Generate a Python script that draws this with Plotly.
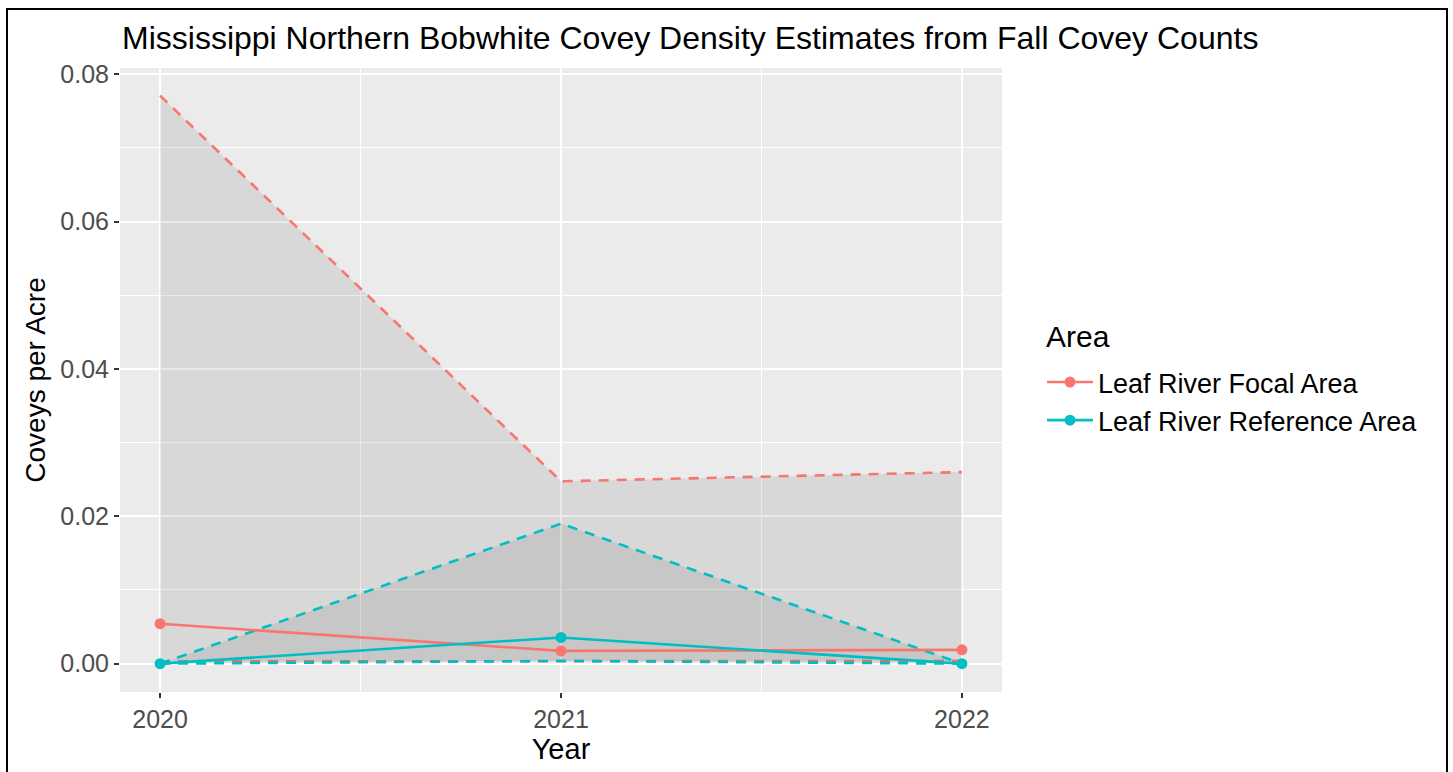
import plotly.graph_objects as go

years = [2020, 2021, 2022]
areas = ["Leaf River Focal Area", "Leaf River Reference Area"]
colors = {"Leaf River Focal Area": "#F8766D", "Leaf River Reference Area": "#00BFC4"}

focal_est = [0.00542, 0.00173, 0.00187]
focal_lower = [0.0003, 0.00037, 0.00037]
focal_upper = [0.0771, 0.02475, 0.0260]

ref_est = [0.0, 0.00355, 0.0]
ref_lower = [0.0, 0.00037, 0.0]
ref_upper = [0.0, 0.0190, 0.0]

data = {
    "Leaf River Focal Area": (focal_est, focal_lower, focal_upper),
    "Leaf River Reference Area": (ref_est, ref_lower, ref_upper),
}

y_ticks = [0.0, 0.02, 0.04, 0.06, 0.08]
y_ticklabels = ["0.00", "0.02", "0.04", "0.06", "0.08"]
x_ticklabels = ["2020", "2021", "2022"]

FONT = "Liberation Sans, Arial, sans-serif"
DASH = "10px,8px"

fig = go.Figure()

# ribbons
for a in areas:
    est, lo, up = data[a]
    c = colors[a]
    fig.add_trace(go.Scatter(x=years, y=lo, mode="lines",
                             line=dict(color=c, width=2.6, dash=DASH),
                             showlegend=False, hoverinfo="skip"))
    fig.add_trace(go.Scatter(x=years, y=up, mode="lines", fill="tonexty",
                             fillcolor="rgba(51,51,51,0.10)",
                             line=dict(color=c, width=2.6, dash=DASH),
                             showlegend=False, hoverinfo="skip"))

# estimate lines
for a in areas:
    est, lo, up = data[a]
    c = colors[a]
    fig.add_trace(go.Scatter(x=years, y=est, mode="lines+markers", name=a,
                             line=dict(color=c, width=2.6),
                             marker=dict(color=c, size=11)))

L, R, T, B = 120, 451, 68, 80
W, H = 1453, 772
pw = W - L - R
ph = H - T - B

fig.add_shape(type="rect", xref="paper", yref="paper",
              x0=(7 - L) / pw, x1=(1447 - L) / pw,
              y0=(H - B - 790) / ph, y1=(H - B - 9) / ph,
              line=dict(color="black", width=2), fillcolor="rgba(0,0,0,0)",
              layer="above")

fig.add_annotation(text="Area", xref="paper", yref="paper",
                   x=(1044 - L) / pw, xanchor="left",
                   y=(H - B - 336) / ph, yanchor="middle",
                   showarrow=False, font=dict(size=30, color="black", family=FONT))

fig.update_layout(
    width=W, height=H,
    margin=dict(l=L, r=R, t=T, b=B),
    paper_bgcolor="white",
    plot_bgcolor="#EBEBEB",
    font=dict(family=FONT, color="black"),
    title=dict(text="Mississippi Northern Bobwhite Covey Density Estimates from Fall Covey Counts",
               x=122 / W, xanchor="left", xref="container",
               y=1 - 38 / H, yanchor="middle", yref="container",
               font=dict(size=32, color="black", family=FONT)),
    legend=dict(font=dict(size=27, color="black"),
                x=(1042 - L) / pw, xanchor="left",
                y=(H - B - 358) / ph, yanchor="top",
                traceorder="normal",
                bgcolor="rgba(0,0,0,0)", tracegroupgap=0, itemwidth=46),
    xaxis=dict(range=[2019.9, 2022.1], tickvals=years, ticktext=x_ticklabels,
               showgrid=True, gridcolor="white", gridwidth=2,
               minor=dict(dtick=0.5, tick0=2020, showgrid=True, gridcolor="white", gridwidth=0.9, ticks=""),
               zeroline=False, ticks="outside", ticklen=5, tickwidth=1.5, tickcolor="#333333",
               tickfont=dict(size=25, color="#4D4D4D"),
               title=dict(text="Year", font=dict(size=29, color="black"), standoff=3),
               showline=False, automargin=False),
    yaxis=dict(range=[-0.00385, 0.08085], tickvals=y_ticks, ticktext=y_ticklabels,
               showgrid=True, gridcolor="white", gridwidth=2,
               minor=dict(dtick=0.01, tick0=0, showgrid=True, gridcolor="white", gridwidth=0.9, ticks=""),
               zeroline=False, ticks="outside", ticklen=5, tickwidth=1.5, tickcolor="#333333",
               tickfont=dict(size=25, color="#4D4D4D"),
               title=dict(text="Coveys per Acre", font=dict(size=28, color="black"), standoff=6),
               showline=False, automargin=False),
)

fig.write_html("out.html")
